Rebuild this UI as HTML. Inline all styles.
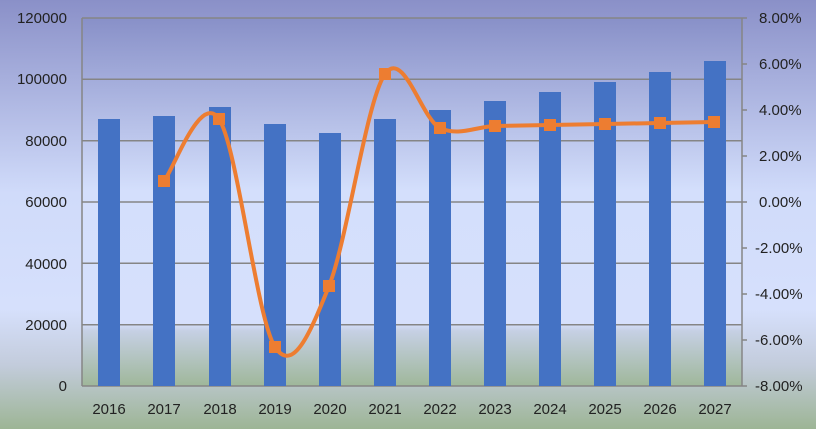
<!DOCTYPE html>
<html><head><meta charset="utf-8"><style>
html,body{margin:0;padding:0;}
body{width:816px;height:429px;overflow:hidden;}
text{font-family:"Liberation Sans",sans-serif;font-size:15px;fill:#222;}
</style></head><body>
<svg width="816" height="429" viewBox="0 0 816 429" xmlns="http://www.w3.org/2000/svg">
<defs>
<linearGradient id="bg" x1="0" y1="0" x2="0" y2="1">
<stop offset="0" stop-color="#8a90c8"/>
<stop offset="0.45" stop-color="#d0dbfa"/>
<stop offset="0.72" stop-color="#d6e0fc"/>
<stop offset="0.85" stop-color="#c3ccdc"/>
<stop offset="1" stop-color="#9db595"/>
</linearGradient>
<linearGradient id="pa" x1="0" y1="0" x2="0" y2="1">
<stop offset="0" stop-color="#8890c8"/>
<stop offset="0.47" stop-color="#d4dffc"/>
<stop offset="0.83" stop-color="#d6e0fc"/>
<stop offset="0.85" stop-color="#c6d0e4"/>
<stop offset="1" stop-color="#9fb79a"/>
</linearGradient>
</defs>
<rect width="816" height="429" fill="url(#bg)"/>
<rect x="82" y="18" width="660" height="368" fill="url(#pa)"/>
<g stroke="#858585" stroke-width="1.5">
<line x1="82" y1="18" x2="742" y2="18"/>
<line x1="82" y1="79.3" x2="742" y2="79.3"/>
<line x1="82" y1="140.7" x2="742" y2="140.7"/>
<line x1="82" y1="202" x2="742" y2="202"/>
<line x1="82" y1="263.3" x2="742" y2="263.3"/>
<line x1="82" y1="324.7" x2="742" y2="324.7"/>
<line x1="82" y1="386" x2="742" y2="386"/>
<line x1="82" y1="18" x2="82" y2="386"/>
<line x1="742" y1="18" x2="742" y2="386"/>
<line x1="742" y1="18" x2="747" y2="18"/>
<line x1="742" y1="64" x2="747" y2="64"/>
<line x1="742" y1="110" x2="747" y2="110"/>
<line x1="742" y1="156" x2="747" y2="156"/>
<line x1="742" y1="202" x2="747" y2="202"/>
<line x1="742" y1="248" x2="747" y2="248"/>
<line x1="742" y1="294" x2="747" y2="294"/>
<line x1="742" y1="340" x2="747" y2="340"/>
<line x1="742" y1="386" x2="747" y2="386"/>
</g>
<g fill="#4472c4">
<rect x="98" y="119" width="22" height="267"/>
<rect x="153" y="116" width="22" height="270"/>
<rect x="209" y="107" width="22" height="279"/>
<rect x="264" y="124" width="22" height="262"/>
<rect x="319" y="133" width="22" height="253"/>
<rect x="374" y="119" width="22" height="267"/>
<rect x="429" y="110" width="22" height="276"/>
<rect x="484" y="101" width="22" height="285"/>
<rect x="539" y="92" width="22" height="294"/>
<rect x="594" y="82" width="22" height="304"/>
<rect x="649" y="72" width="22" height="314"/>
<rect x="704" y="61" width="22" height="325"/>
</g>
<path d="M164,181 C173.2,170.7 200.5,91.3 219,119 C237.5,146.7 256.7,319.2 275,347 C293.3,374.8 310.7,331.5 329,286 C347.3,240.5 366.5,100.3 385,74 C403.5,47.7 421.7,119.3 440,128 C458.3,136.7 476.7,126.5 495,126 L550,125 L605,124 L660,123 L714,122" fill="none" stroke="#ed7d31" stroke-width="4" stroke-linecap="round"/>
<g fill="#ed7d31">
<rect x="158" y="175" width="12" height="12"/>
<rect x="213" y="113" width="12" height="12"/>
<rect x="269" y="341" width="12" height="12"/>
<rect x="323" y="280" width="12" height="12"/>
<rect x="379" y="68" width="12" height="12"/>
<rect x="434" y="122" width="12" height="12"/>
<rect x="489" y="120" width="12" height="12"/>
<rect x="544" y="119" width="12" height="12"/>
<rect x="599" y="118" width="12" height="12"/>
<rect x="654" y="117" width="12" height="12"/>
<rect x="708" y="116" width="12" height="12"/>
</g>
<g text-anchor="end">
<text x="67" y="23">120000</text>
<text x="67" y="84">100000</text>
<text x="67" y="146">80000</text>
<text x="67" y="207">60000</text>
<text x="67" y="269">40000</text>
<text x="67" y="330">20000</text>
<text x="67" y="391">0</text>
</g>
<g text-anchor="start">
<text x="759" y="23">8.00%</text>
<text x="759" y="69">6.00%</text>
<text x="759" y="115">4.00%</text>
<text x="759" y="161">2.00%</text>
<text x="759" y="207">0.00%</text>
<text x="755" y="253">-2.00%</text>
<text x="755" y="299">-4.00%</text>
<text x="755" y="345">-6.00%</text>
<text x="755" y="391">-8.00%</text>
</g>
<g text-anchor="middle">
<text x="109" y="414">2016</text>
<text x="164" y="414">2017</text>
<text x="220" y="414">2018</text>
<text x="275" y="414">2019</text>
<text x="330" y="414">2020</text>
<text x="385" y="414">2021</text>
<text x="440" y="414">2022</text>
<text x="495" y="414">2023</text>
<text x="550" y="414">2024</text>
<text x="605" y="414">2025</text>
<text x="660" y="414">2026</text>
<text x="715" y="414">2027</text>
</g>
</svg>
</body></html>
